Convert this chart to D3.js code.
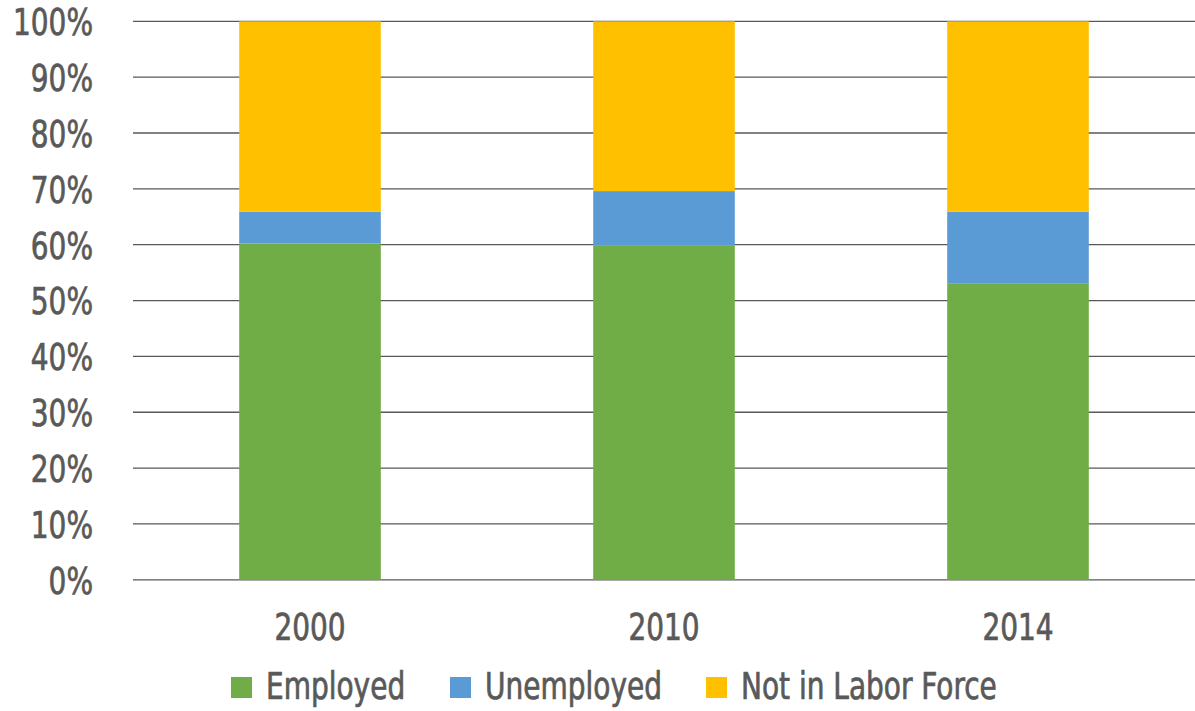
<!DOCTYPE html>
<html><head><meta charset="utf-8">
<script src="https://cdn.jsdelivr.net/npm/d3@7"></script>
<style>
body{margin:0;background:#fff;}
text{font-family:"DejaVu Sans",sans-serif;font-stretch:condensed;fill:#595959;stroke:#595959;stroke-width:0.7px;}
</style></head>
<body><svg id="c" width="1195" height="711"></svg>
<script>
const categories = ["2000","2010","2014"];
const seriesNames = ["Employed","Unemployed","Not in Labor Force"];
const employed = [60.2, 59.9, 53.0];
const unemployed = [5.7, 9.7, 12.9];
const notInLaborForce = [34.1, 30.4, 34.1];
const colors = ["#70AD47","#5B9BD5","#FFC000"];
const yTicks = [0,10,20,30,40,50,60,70,80,90,100];

const rows = categories.map((c,i)=>({cat:c, "Employed":employed[i], "Unemployed":unemployed[i], "Not in Labor Force":notInLaborForce[i]}));
const stack = d3.stack().keys(seriesNames)(rows);

const svg = d3.select("#c");
const m = {left:133, right:1195, top:21.3, bottom:579.8};
const x = d3.scaleBand().domain(categories).range([m.left, m.right]).paddingInner(0.6).paddingOuter(0.3);
const y = d3.scaleLinear().domain([0,100]).range([m.bottom, m.top]);
const FS = 37;

svg.append("g").selectAll("line").data(yTicks).join("line")
  .attr("x1", m.left).attr("x2", m.right)
  .attr("y1", d=>y(d)).attr("y2", d=>y(d))
  .attr("stroke","#595959").attr("stroke-width",1.3);

svg.append("g").selectAll("g").data(stack).join("g")
  .attr("fill",(d,i)=>colors[i])
  .selectAll("rect").data(d=>d).join("rect")
  .attr("x", d=>x(d.data.cat)).attr("width", x.bandwidth())
  .attr("y", d=>y(d[1])).attr("height", d=>y(d[0])-y(d[1]));

const yAxis = d3.axisLeft(y).tickValues(yTicks).tickFormat(d=>d+"%").tickSize(0).tickPadding(0);
const ya = svg.append("g").attr("transform",`translate(93,0)`).call(yAxis);
ya.select(".domain").remove();
ya.selectAll("text").attr("font-size",FS).attr("fill","#595959").attr("dy","0.36em")
  .attr("font-family",null);

const xAxis = d3.axisBottom(x).tickSize(0).tickPadding(0);
const xa = svg.append("g").attr("transform",`translate(0,640)`).call(xAxis);
xa.select(".domain").remove();
xa.selectAll("text").attr("font-size",FS).attr("fill","#595959").attr("dy",0).attr("y",0)
  .attr("font-family",null);

const legX = [231, 450, 706];
const lg = svg.append("g").selectAll("g").data(seriesNames).join("g")
  .attr("transform",(d,i)=>`translate(${legX[i]},677)`);
lg.append("rect").attr("width",21).attr("height",21).attr("fill",(d,i)=>colors[i]);
lg.append("text").attr("x",35).attr("y",22).attr("font-size",FS).text(d=>d);

// horizontal condensing to mimic the narrow typeface
const ref = ya.selectAll("text").filter(d=>d===100).node();
const k = 80 / ref.getComputedTextLength();
svg.selectAll("text").each(function(){
  const w = this.getComputedTextLength();
  d3.select(this).attr("textLength", w*k).attr("lengthAdjust","spacingAndGlyphs");
});
</script></body></html>
